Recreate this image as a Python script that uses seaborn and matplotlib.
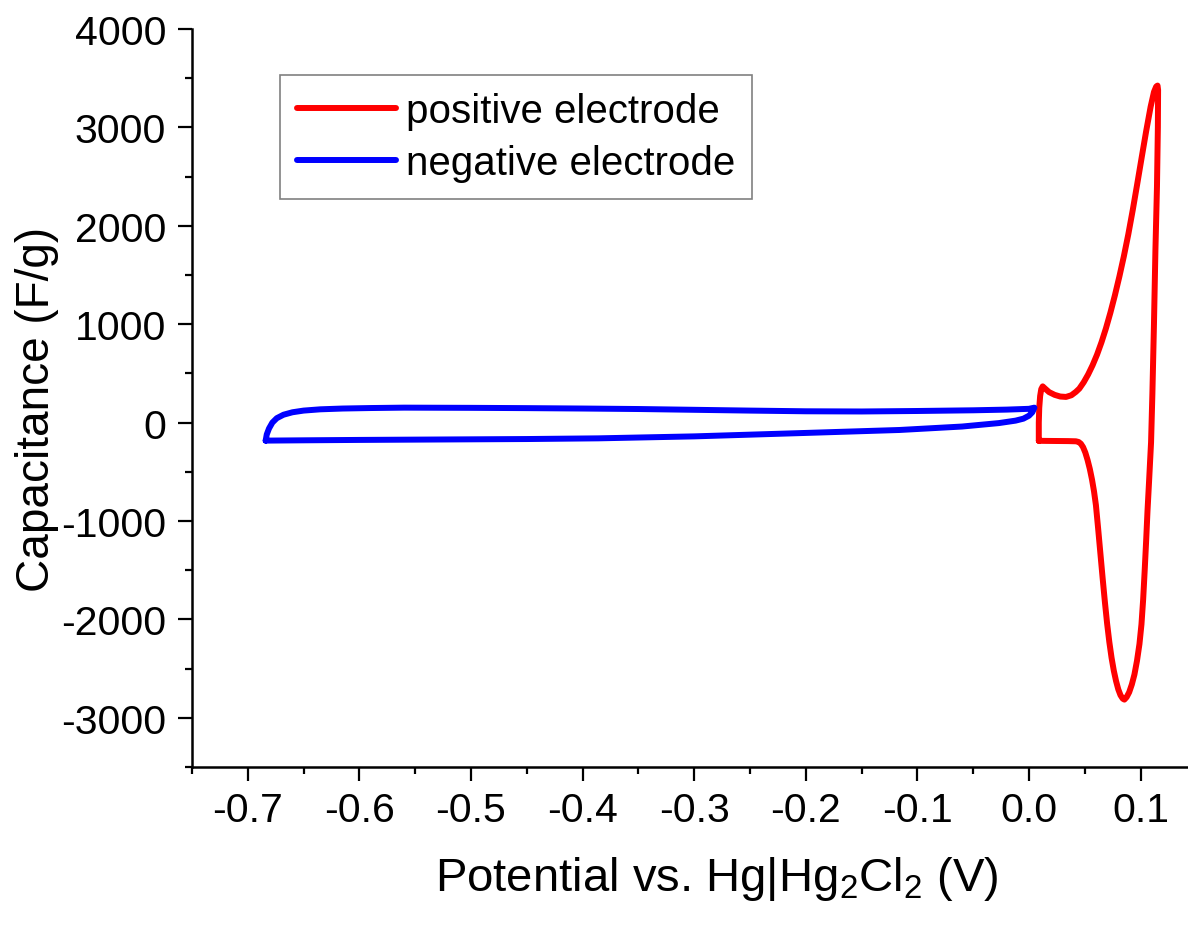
import matplotlib
matplotlib.use("Agg")
import matplotlib.pyplot as plt
import pandas as pd
import seaborn as sns
from matplotlib.ticker import MultipleLocator
from matplotlib.lines import Line2D

# Cyclic voltammetry-derived specific capacitance, one closed loop per electrode.
# Positive electrode: anodic sweep from the lower-left corner, up to the peak,
# back down through the cathodic minimum and along the flat base.
pos_potential = [
    0.0088, 0.0088, 0.0092, 0.0100, 0.0110, 0.0123, 0.0145, 0.0180, 0.0230,
    0.0280, 0.0332, 0.0380, 0.0420, 0.0451, 0.0490, 0.0530, 0.0570, 0.0610,
    0.0650, 0.0690, 0.0730, 0.0770, 0.0810, 0.0850, 0.0890, 0.0930, 0.0970,
    0.1010, 0.1050, 0.1090, 0.1120, 0.1140, 0.1152,
    0.1157, 0.1155, 0.1147, 0.1133, 0.1120, 0.1106, 0.1094, 0.1076, 0.1062,
    0.1050, 0.1037, 0.1023, 0.1008, 0.0990, 0.0968, 0.0945, 0.0922, 0.0898,
    0.0875, 0.0855,
    0.0840, 0.0820, 0.0800, 0.0780, 0.0760, 0.0740, 0.0720, 0.0700, 0.0680,
    0.0660, 0.0640, 0.0620, 0.0600, 0.0583, 0.0565, 0.0545, 0.0525, 0.0505,
    0.0485, 0.0465, 0.0445, 0.0420, 0.0350, 0.0250, 0.0150, 0.0088,
]
pos_capacitance = [
    -185, 0, 150, 270, 340, 368, 345, 310, 282,
    265, 261, 278, 312, 345, 409, 489, 583, 691,
    817, 959, 1119, 1294, 1484, 1689, 1913, 2161, 2425,
    2695, 2961, 3209, 3360, 3415, 3425,
    3380, 3000, 2400, 1750, 1000, 300, -200, -600, -900,
    -1200, -1500, -1800, -2050, -2250, -2420, -2560, -2660, -2740,
    -2790, -2815,
    -2805, -2770, -2710, -2625, -2520, -2390, -2230, -2040, -1820,
    -1580, -1330, -1080, -840, -700, -580, -470, -380, -305,
    -250, -215, -197, -190, -188, -187, -186, -185,
]

# Negative electrode: anodic branch from the left vertex, cathodic branch back.
neg_potential = [
    -0.684, -0.683, -0.681, -0.678, -0.674, -0.668, -0.660, -0.650, -0.635,
    -0.615, -0.590, -0.560, -0.500, -0.450, -0.400, -0.350, -0.300, -0.250,
    -0.200, -0.150, -0.100, -0.050, -0.020, 0.000, 0.0049,
    0.0030, 0.0000, -0.0050, -0.0120, -0.0270, -0.0600, -0.1160, -0.2000,
    -0.3000, -0.3860, -0.4500, -0.5000, -0.5500, -0.6000, -0.6500, -0.6840,
]
neg_capacitance = [
    -183, -120, -60, 0, 45, 80, 105, 122, 135,
    143, 148, 152, 150, 147, 143, 138, 130, 122,
    115, 113, 118, 125, 132, 140, 152,
    105, 70, 40, 20, -5, -40, -75, -105,
    -140, -160, -167, -170, -173, -176, -180, -183,
]

series_labels = ["positive electrode", "negative electrode"]
series_colors = ["#ff0000", "#0000ff"]

x_ticks = [-0.7, -0.6, -0.5, -0.4, -0.3, -0.2, -0.1, 0.0, 0.1]
x_tick_labels = ["-0.7", "-0.6", "-0.5", "-0.4", "-0.3", "-0.2", "-0.1", "0.0", "0.1"]
y_ticks = [-3000, -2000, -1000, 0, 1000, 2000, 3000, 4000]
y_tick_labels = ["-3000", "-2000", "-1000", "0", "1000", "2000", "3000", "4000"]

sns.set_theme(style="ticks")
plt.rcParams.update({
    "font.family": ["Liberation Sans", "DejaVu Sans"],
    "mathtext.fontset": "custom",
    "mathtext.rm": "Liberation Sans",
    "mathtext.it": "Liberation Sans:italic",
    "mathtext.default": "regular",
    "axes.unicode_minus": False,
    "text.color": "black",
    "axes.labelcolor": "black",
    "xtick.color": "black",
    "ytick.color": "black",
})

frames = []
for label, xs, ys in [
    (series_labels[0], pos_potential, pos_capacitance),
    (series_labels[1], neg_potential, neg_capacitance),
]:
    frames.append(pd.DataFrame({"potential": xs, "capacitance": ys, "electrode": label}))
df = pd.concat(frames, ignore_index=True)

fig = plt.figure(figsize=(11.88, 9.28), dpi=100)
ax = fig.add_axes([192 / 1188, 160 / 928, 996 / 1188, 738 / 928])

palette = dict(zip(series_labels, series_colors))
sns.lineplot(
    data=df, x="potential", y="capacitance", hue="electrode",
    hue_order=series_labels, palette=palette, sort=False, estimator=None,
    linewidth=4.3, legend=False, ax=ax,
)
for line in ax.lines:
    line.set_solid_joinstyle("round")
    line.set_solid_capstyle("round")

ax.set_xlim(-0.75, 0.1425)
ax.set_ylim(-3500, 4000)
ax.set_xticks(x_ticks, x_tick_labels)
ax.set_yticks(y_ticks, y_tick_labels)
ax.xaxis.set_minor_locator(MultipleLocator(0.05))
ax.yaxis.set_minor_locator(MultipleLocator(500))

sns.despine(ax=ax)
for side in ("left", "bottom"):
    ax.spines[side].set_linewidth(1.8)
    ax.spines[side].set_color("black")

ax.tick_params(which="major", direction="out", length=10, width=1.6,
               labelsize=29.5, pad=7)
ax.tick_params(which="minor", direction="out", length=5, width=1.6)
ax.tick_params(axis="y", which="major", pad=8.5)

ax.set_xlabel("Potential vs. Hg|Hg$_2$Cl$_2$ (V)", fontsize=34)
ax.set_ylabel("Capacitance (F/g)", fontsize=33)
ax.xaxis.set_label_coords(0.527, -0.118)
ax.yaxis.set_label_coords(-0.134, 0.486)

handles = [Line2D([], [], color=c, linewidth=4.3, solid_capstyle="round")
           for c in series_colors]
leg = ax.legend(
    handles, series_labels, loc="upper left", bbox_to_anchor=(0.0884, 0.937),
    borderaxespad=0, frameon=True, fancybox=False, fontsize=29,
    handlelength=2.45, handletextpad=0.25, labelspacing=0.34, borderpad=0.42,
)
frame = leg.get_frame()
frame.set_edgecolor("#808080")
frame.set_linewidth(1.2)
frame.set_facecolor("white")
frame.set_alpha(1)

fig.savefig("out.png", dpi=100, facecolor="white")
